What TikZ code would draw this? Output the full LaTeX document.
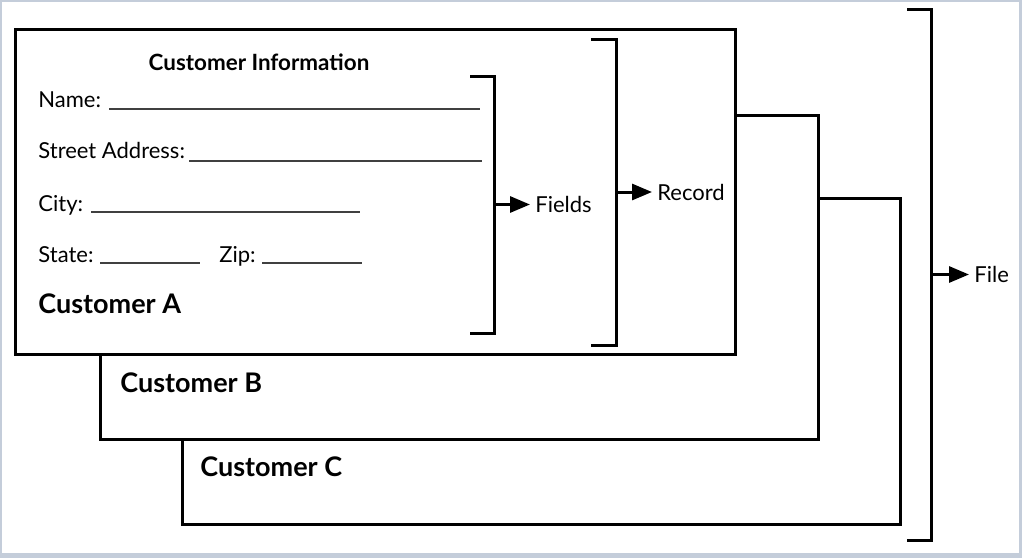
\documentclass[tikz,border=0pt]{standalone}
\usepackage{fontspec}
\setmainfont{Lato}
\usetikzlibrary{arrows.meta}
\definecolor{marco}{RGB}{196,205,218}
\tikzset{
  tarjeta/.style={draw, line width=1.5pt, fill=white},
  corchete/.style={line width=1.5pt},
  flecha/.style={line width=1.5pt, -{Triangle[length=10pt,width=8pt]}},
  raya/.style={line width=0.6pt, black!75},
  campo/.style={anchor=base west, inner sep=0pt, font=\fontsize{11}{13}\selectfont},
  titulo/.style={anchor=base west, inner sep=0pt, font=\fontsize{13.5}{16}\selectfont\bfseries},
  etiqueta/.style={anchor=west, inner sep=2.5pt, font=\fontsize{11}{13}\selectfont},
}

\begin{document}
\begin{tikzpicture}[x=0.5pt, y=-0.5pt]
  % Fondo
  \fill[marco] (0,0) rectangle (1022,558);
  \fill[white] (2,2) rectangle (1019,553);

  % Tarjetas
  \draw[tarjeta] (182,198) rectangle (900,524);
  \draw[tarjeta] (100,115) rectangle (818,439);
  \draw[tarjeta] (15,29) rectangle (735,354);
  \node[titulo] (custC) at (200,476) {Customer C};
  \node[titulo] (custB) at (120,392) {Customer B};
  \node[titulo] (custA) at (38,313) {Customer A};

  % Campos
  \node[campo, anchor=base, font=\fontsize{11.2}{13}\selectfont\bfseries] (info) at (259,70) {Customer Information};
  \node[campo] (name) at (38,107) {Name:};
  \draw[raya] (109,109) -- (480,109);
  \node[campo] (street) at (38,158) {Street Address:};
  \draw[raya] (189,161) -- (482,161);
  \node[campo] (city) at (38,211) {City:};
  \draw[raya] (91,212) -- (360,212);
  \node[campo] (state) at (38,262) {State:};
  \draw[raya] (100,263) -- (200,263);
  \node[campo] (zip) at (219,262) {Zip:};
  \draw[raya] (262,263) -- (362,263);

  % Corchetes
  \draw[corchete] (470,76) -| (494,333) -- (470,333);
  \coordinate (fMid) at (494,204.5);
  \node[etiqueta] (fields) at (530,204.5) {Fields};
  \draw[flecha] (fMid) -- (fields.west);

  \draw[corchete] (591,39) -| (616,345) -- (591,345);
  \coordinate (rMid) at (616,192);
  \node[etiqueta] (record) at (652,192) {Record};
  \draw[flecha] (rMid) -- (record.west);

  \draw[corchete] (907,9) -| (931,540) -- (907,540);
  \coordinate (flMid) at (931,274.5);
  \node[etiqueta] (file) at (969,274.5) {File};
  \draw[flecha] (flMid) -- (file.west);
\end{tikzpicture}
\end{document}
